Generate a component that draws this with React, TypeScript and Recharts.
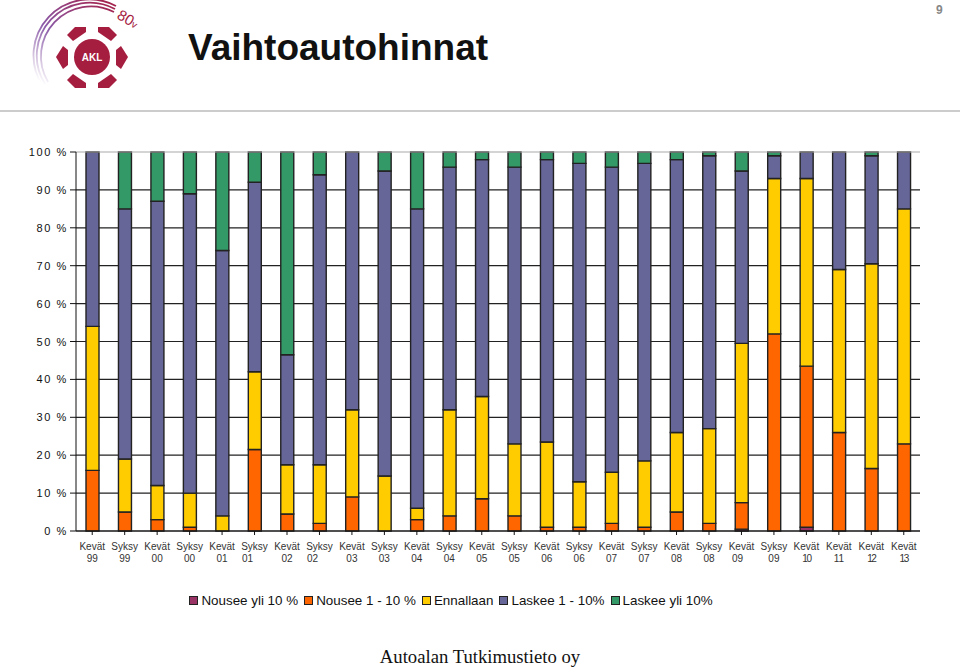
import { BarChart, Bar, XAxis, YAxis, CartesianGrid, Legend, ReferenceLine } from "recharts"

const seasons = ["Kevät", "Syksy", "Kevät", "Syksy", "Kevät", "Syksy", "Kevät", "Syksy", "Kevät", "Syksy", "Kevät", "Syksy", "Kevät", "Syksy", "Kevät", "Syksy", "Kevät", "Syksy", "Kevät", "Syksy", "Kevät", "Syksy", "Kevät", "Kevät", "Kevät", "Kevät"]
const years = ["99", "99", "00", "00", "01", "01", "02", "02", "03", "03", "04", "04", "05", "05", "06", "06", "07", "07", "08", "08", "09", "09", "10", "11", "12", "13"]

const nouseeYli10 = [0, 0, 0, 0, 0, 0, 0, 0, 0, 0, 0, 0, 0, 0, 0, 0, 0, 0, 0, 0, 0.5, 0, 1, 0, 0, 0]
const nousee1to10 = [16, 5, 3, 1, 0, 21.5, 4.5, 2, 9, 0, 3, 4, 8.5, 4, 1, 1, 2, 1, 5, 2, 7, 52, 42.5, 26, 16.5, 23]
const ennallaan = [38, 14, 9, 9, 4, 20.5, 13, 15.5, 23, 14.5, 3, 28, 27, 19, 22.5, 12, 13.5, 17.5, 21, 25, 42, 41, 49.5, 43, 54, 62]
const laskee1to10 = [46, 66, 75, 79, 70, 50, 29, 76.5, 68, 80.5, 79, 64, 62.5, 73, 74.5, 84, 80.5, 78.5, 72, 72, 45.5, 6, 7, 31, 28.5, 15]
const laskeeYli10 = [0, 15, 13, 11, 26, 8, 53.5, 6, 0, 5, 15, 4, 2, 4, 2, 3, 4, 3, 2, 1, 5, 1, 0, 0, 1, 0]

const yTicks = [0, 10, 20, 30, 40, 50, 60, 70, 80, 90, 100]
const gridLines = [0, 10, 20, 30, 40, 50, 60, 70, 80, 90]

const chartData = seasons.map((season, i) => ({
  label: `${season}|${years[i]}|${i}`,
  nouseeYli10: nouseeYli10[i],
  nousee1to10: nousee1to10[i],
  ennallaan: ennallaan[i],
  laskee1to10: laskee1to10[i],
  laskeeYli10: laskeeYli10[i],
}))

const sans = "'Liberation Sans', Arial, sans-serif"

// a few year labels sit left of their bar in the original
const yearShift: Record<string, number> = { "5": -7, "7": -7, "20": -4 }

function CategoryTick({ x, y, payload }: any) {
  const [season, year, idx] = String(payload.value).split("|")
  const tight = year === "10" || year === "12" || year === "13"
  return (
    <text x={x} y={y} textAnchor="middle" fontFamily={sans} fontSize={10} fill="#333">
      <tspan x={x} dy={13}>{season}</tspan>
      <tspan x={x + (yearShift[idx] || 0)} dy={12} letterSpacing={tight ? -1.4 : 0}>{year}</tspan>
    </text>
  )
}

function PercentTick({ x, y, payload }: any) {
  return (
    <text x={x} y={y + 4} textAnchor="end" fontFamily={sans} fontSize={11} letterSpacing={1.6} fill="#111">
      {payload.value} %
    </text>
  )
}

function LegendRow({ payload }: any) {
  return (
    <div style={{ display: "flex", justifyContent: "center", transform: "translateX(-6px)", fontFamily: sans, fontSize: 13.4, color: "#111" }}>
      {payload.map((p: any) => (
        <span key={p.value} style={{ display: "flex", alignItems: "center", marginRight: 6 }}>
          <span style={{ width: 7, height: 7, background: p.color, border: "1px solid #222", marginRight: 3 }} />
          {p.value}
        </span>
      ))}
    </div>
  )
}

function Logo() {
  return (
    <svg width={160} height={100} style={{ position: "absolute", left: 0, top: 0 }}>
      <defs>
        <linearGradient id="arc" gradientUnits="userSpaceOnUse" x1={110} y1={4} x2={45} y2={86}>
          <stop offset="0%" stopColor="#a3244f" />
          <stop offset="55%" stopColor="#8a5aa8" />
          <stop offset="100%" stopColor="#ffffff" />
        </linearGradient>
      </defs>
      <g fill="none" stroke="url(#arc)" strokeWidth={1.8}>
        <path d="M48 82 A50 50 0 0 1 114 12" />
        <path d="M45 84 A53 53 0 0 1 115 9" />
        <path d="M42 85 A56 56 0 0 1 116 6" />
      </g>
      <g fill="#a51d3f">
        <circle cx={92} cy={57} r={18} />
        <polygon points="75,27 86,27 86,32 73,41 67,35" />
        <polygon points="109,27 98,27 98,32 111,41 117,35" />
        <polygon points="56,57 63,46 68,50 68,65 63,69" />
        <polygon points="128,57 121,46 116,50 116,65 121,69" />
        <polygon points="67,80 73,74 86,83 86,88 75,88" />
        <polygon points="117,80 111,74 98,83 98,88 109,88" />
      </g>
      <text x={92} y={61} textAnchor="middle" fontFamily={sans} fontSize={10} fontWeight="bold" fill="#fff">AKL</text>
      <text x={116} y={18} fontFamily={sans} fontSize={15} fill="#a51d3f" transform="rotate(30 116 18)">
        80<tspan fontSize={10}>v</tspan>
      </text>
    </svg>
  )
}

export default function App() {
  return (
    <div style={{ position: "absolute", left: 0, top: 0, width: 960, height: 669, background: "#fff", overflow: "hidden" }}>
      <Logo />
      <div style={{ position: "absolute", left: 188, top: 27, fontFamily: sans, fontSize: 37, fontWeight: "bold", color: "#111" }}>
        Vaihtoautohinnat
      </div>
      <div style={{ position: "absolute", left: 936, top: 3, fontFamily: sans, fontSize: 12, fontWeight: "bold", color: "#888" }}>9</div>
      <div style={{ position: "absolute", left: 0, top: 110, width: 960, height: 2, background: "#ccc" }} />

      <div style={{ position: "absolute", left: 0, top: 130 }}>
        <BarChart
          width={960}
          height={478}
          data={chartData}
          barSize={13}
          margin={{ top: 22, right: 40, left: 0, bottom: 0 }}
        >
          <CartesianGrid vertical={false} horizontalValues={gridLines} stroke="#222" strokeWidth={1.2} />
          <XAxis
            dataKey="label"
            interval={0}
            height={62}
            stroke="#111"
            tickSize={4}
            tick={<CategoryTick />}
          />
          <YAxis
            type="number"
            domain={[0, 100]}
            ticks={yTicks}
            width={76}
            stroke="#111"
            tickSize={6}
            tick={<PercentTick />}
          />
          <YAxis yAxisId="frame" orientation="right" domain={[0, 100]} width={0} stroke="#aaa" tick={false} tickLine={false} />
          <ReferenceLine y={100} stroke="#aaa" strokeWidth={1.2} />
          <Legend verticalAlign="bottom" itemSorter={null} content={<LegendRow />} />
          <Bar dataKey="nouseeYli10" name="Nousee yli 10 %" stackId="a" fill="#993366" stroke="#222" strokeWidth={1.4} isAnimationActive={false} />
          <Bar dataKey="nousee1to10" name="Nousee 1 - 10 %" stackId="a" fill="#ff6600" stroke="#222" strokeWidth={1.4} isAnimationActive={false} />
          <Bar dataKey="ennallaan" name="Ennallaan" stackId="a" fill="#ffcc00" stroke="#222" strokeWidth={1.4} isAnimationActive={false} />
          <Bar dataKey="laskee1to10" name="Laskee 1 - 10%" stackId="a" fill="#666699" stroke="#222" strokeWidth={1.4} isAnimationActive={false} />
          <Bar dataKey="laskeeYli10" name="Laskee yli 10%" stackId="a" fill="#339966" stroke="#222" strokeWidth={1.4} isAnimationActive={false} />
        </BarChart>
      </div>

      <div style={{ position: "absolute", left: 0, top: 646, width: 960, textAlign: "center", fontFamily: "'Liberation Serif', serif", fontSize: 18.7, color: "#111" }}>
        Autoalan Tutkimustieto oy
      </div>
    </div>
  )
}
